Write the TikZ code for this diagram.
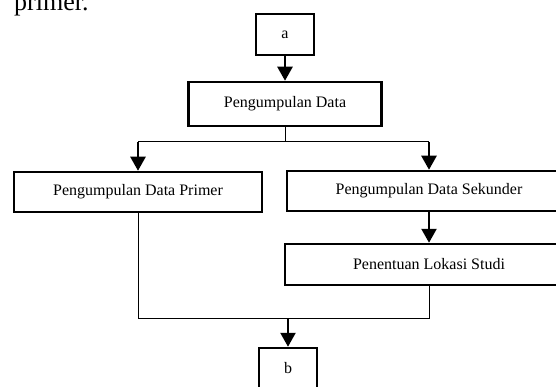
\documentclass[tikz,border=0pt]{standalone}
\usepackage{fontspec}
\setmainfont{Liberation Serif}
\usetikzlibrary{arrows.meta}
\begin{document}
\begin{tikzpicture}
    [x=1pt,y=-1pt,
     box/.style={draw, line width=2.5pt, inner sep=0pt, font=\fontsize{16}{19}\selectfont},
     flow/.style={line width=2.5pt, -{Triangle[length=14pt,width=15pt]}},
     link/.style={line width=1pt}]
    \useasboundingbox (0,0) rectangle (556,387);
    \node[anchor=base west, inner sep=0pt, font=\fontsize{26}{30}\selectfont] (txt) at (14,11) {primer.};

    \node[box, minimum width=58pt, minimum height=41pt] (a) at (285,34.5) {a};
    \node[box, minimum width=193pt, minimum height=44pt] (pd) at (285,104) {Pengumpulan Data};

    \node[box, minimum width=248pt, minimum height=40pt] (primer) at (138,192) {Pengumpulan Data Primer};
    \node[box, minimum width=284pt, minimum height=40pt] (sekunder) at (429,191) {Pengumpulan Data Sekunder};
    \node[box, minimum width=288pt, minimum height=41pt] (lokasi) at (429,264.5) {Penentuan Lokasi Studi};

    \node[box, minimum width=58pt, minimum height=41pt] (b) at (288,368.5) {b};

    \draw[flow] (a) -- (pd);

    % split
    \coordinate (split) at (285,142);
    \draw[link] (pd) -- (split);
    \draw[link] (primer.north |- split) -- (sekunder.north |- split);
    \foreach \to in {primer, sekunder}
      \draw[flow] (\to.north |- split) -- (\to);

    \draw[flow] (sekunder) -- (lokasi);

    % merge
    \coordinate (merge) at (288,318);
    \draw[link] (primer.south) |- (lokasi.south |- merge) -- (lokasi.south);
    \draw[flow] (merge) -- (b);
\end{tikzpicture}
\end{document}
